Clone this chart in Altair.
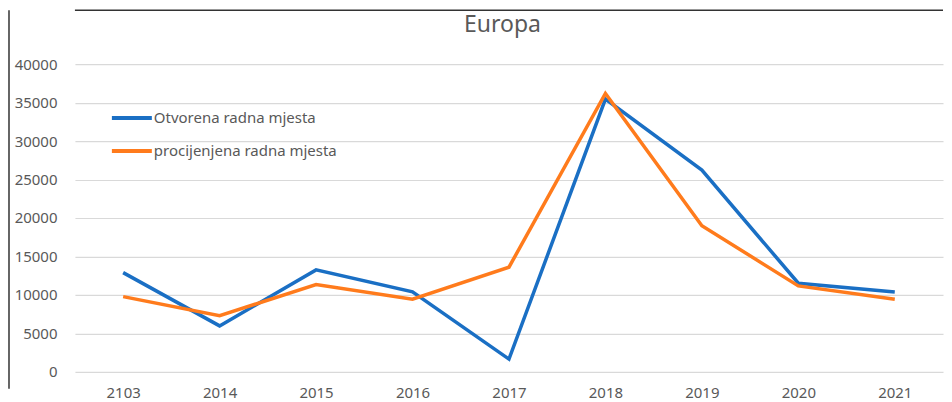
import altair as alt
import pandas as pd

years = ["2103", "2014", "2015", "2016", "2017", "2018", "2019", "2020", "2021"]
otvorena = [12900, 5970, 13250, 10390, 1650, 35450, 26230, 11520, 10390]
procijenjena = [9780, 7310, 11340, 9440, 13600, 36200, 19000, 11170, 9440]
series_names = ["Otvorena radna mjesta", "procijenjena radna mjesta"]
series_colors = ["#1A6FC4", "#FF7B1C"]

rows = []
for i, y in enumerate(years):
    rows.append({"year": y, "series": series_names[0], "value": otvorena[i], "order": i})
    rows.append({"year": y, "series": series_names[1], "value": procijenjena[i], "order": i})
df = pd.DataFrame(rows)

FONT = "Noto Sans"
GREY = "#595959"

lines = alt.Chart(df).mark_line(strokeWidth=3.5).encode(
    x=alt.X("year:N", sort=years, title=None,
            scale=alt.Scale(type="point", padding=0.5),
            axis=alt.Axis(labelAngle=0, ticks=False, domain=False, grid=False,
                          labelPadding=14, labelFontSize=15, labelColor=GREY, labelFont=FONT)),
    y=alt.Y("value:Q", title=None,
            scale=alt.Scale(domain=[0, 40000]),
            axis=alt.Axis(values=list(range(0, 40001, 5000)), format="d", ticks=False, domain=False,
                          gridColor="#D9D9D9", gridWidth=1.2, labelPadding=18,
                          labelFontSize=15, labelColor=GREY, labelFont=FONT)),
    color=alt.Color("series:N",
                    scale=alt.Scale(domain=series_names, range=series_colors),
                    legend=alt.Legend(title=None, orient="none", legendX=35, legendY=32,
                                      symbolType="stroke", symbolSize=1600,
                                      symbolStrokeWidth=4, labelFontSize=15,
                                      labelColor=GREY, labelFont=FONT, labelOffset=0,
                                      labelLimit=400, rowPadding=3)),
    order="order:Q",
)

frame_data = alt.Data(values=[{"a": 1}])
left_border = alt.Chart(frame_data).mark_rule(color="#333333", strokeWidth=1.5).encode(
    x=alt.value(-66), y=alt.value(-54), y2=alt.value(325))
top_border = alt.Chart(frame_data).mark_rule(
    color="#333333", strokeWidth=1.5, xOffset=0, x2Offset=-66.75
).encode(y=alt.value(-54))
title_text = alt.Chart(frame_data).mark_text(
    text="Europa", fontSize=23, font=FONT, color=GREY, baseline="alphabetic", align="center"
).encode(x=alt.value(428), y=alt.value(-32))

chart = alt.layer(lines, left_border, top_border, title_text).properties(
    width=869, height=308,
    padding={"top": 1, "left": 0, "right": 0, "bottom": 0},
).configure_view(stroke=None)

chart.save("out.html", embed_options={"renderer": "svg", "actions": False})
